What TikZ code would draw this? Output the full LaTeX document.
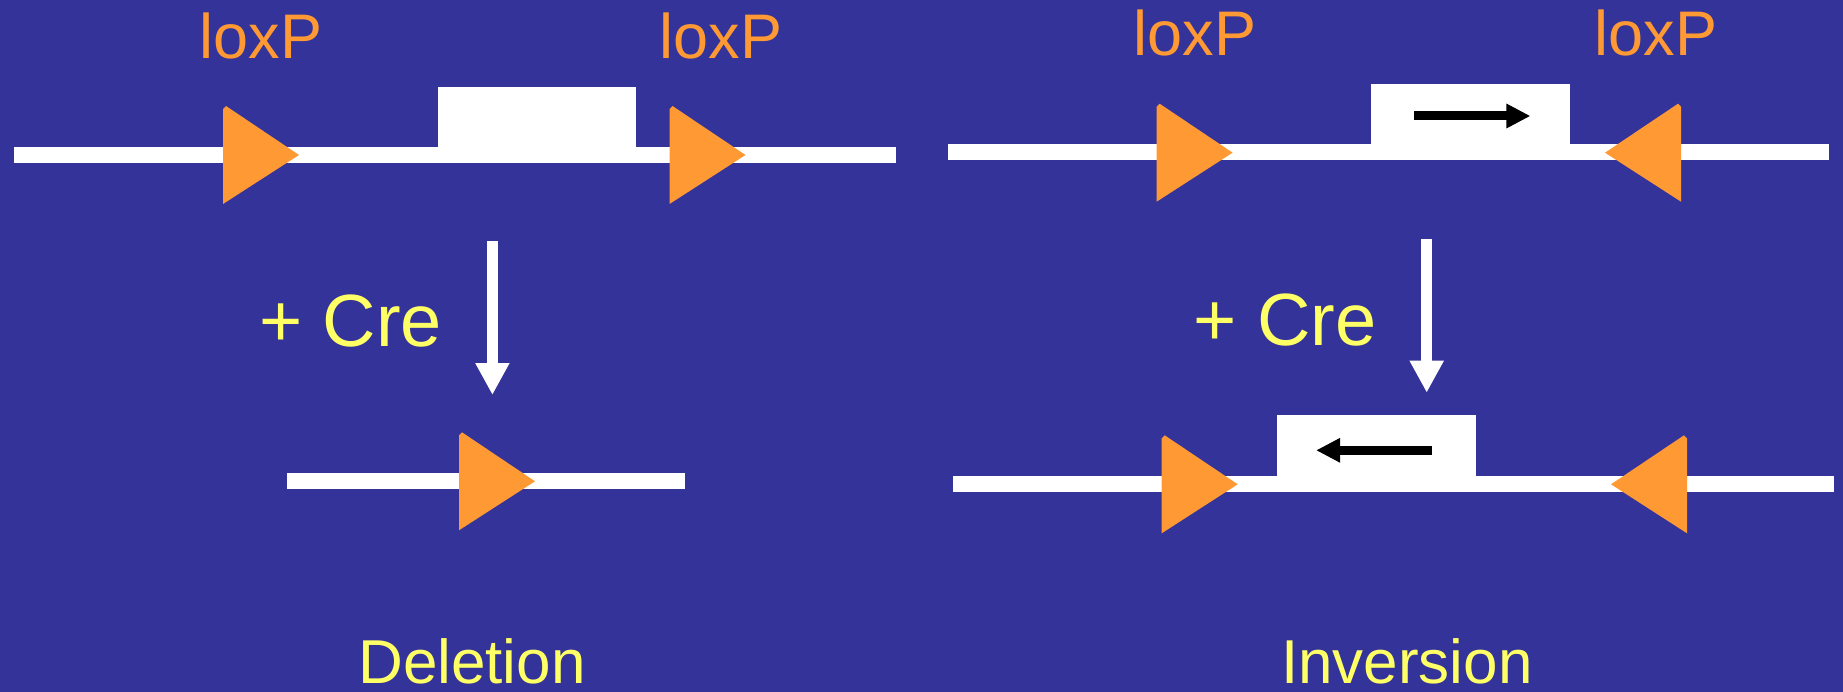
\documentclass[tikz,border=0pt]{standalone}
\usepackage{fontspec}
\setmainfont{Liberation Sans}
\usetikzlibrary{arrows.meta}
\definecolor{slide}{HTML}{333399}
\definecolor{loxorange}{HTML}{FF9933}
\definecolor{creyellow}{HTML}{FFFF66}
\tikzset{
  dna/.style={fill=white},
  loxlabel/.style={text=loxorange, anchor=base, inner sep=0pt, font=\fontsize{63}{63}\selectfont},
  crelabel/.style={text=creyellow, anchor=base, inner sep=0pt, font=\fontsize{74}{74}\selectfont},
  caption/.style={text=creyellow, anchor=base, inner sep=0pt, text depth=0pt, font=\fontsize{62}{62}\selectfont},
  crearrow/.style={draw=white, line width=11pt, -{Triangle[width=32pt,length=32pt]}},
  genearrow/.style={draw=black, line width=9pt, -{Triangle[width=23pt,length=24pt]}},
  loxR/.pic={\fill[loxorange] (0,-46) -- (3,-49) -- (76,0) -- (0,49) -- cycle;},
  loxL/.pic={\fill[loxorange] (0,-46) -- (-3,-49) -- (-76,0) -- (0,49) -- cycle;}
}
\begin{document}
\begin{tikzpicture}[x=1pt,y=-1pt]
  % canvas
  \fill[slide] (0,0) rectangle (1843,692);
  \useasboundingbox (0,0) rectangle (1843,692);

  % ---- Deletion: before ----
  \fill[dna] (14,146.7) rectangle (896,162.7);
  \fill[dna] (438,86.7) rectangle (636,156);
  \pic at (223,155) {loxR};
  \pic at (669.5,155) {loxR};
  \node[loxlabel] (lox1) at (261,58.3) {loxP};
  \node[loxlabel] (lox2) at (721,58.3) {loxP};

  % Cre step
  \coordinate (dtop) at (492.4,241);
  \coordinate (dbot) at (492.4,395);
  \draw[crearrow] (dtop) -- (dbot);
  \node[crelabel] (cre1) at (350.7,346) {+ Cre};

  % ---- Deletion: after ----
  \fill[dna] (287,473.3) rectangle (685,489);
  \pic at (459,481.3) {loxR};
  \node[caption] (del) at (472,683) {Deletion};

  % ---- Inversion: before ----
  \fill[dna] (948,144.3) rectangle (1829.4,160.3);
  \fill[dna] (1371,84.3) rectangle (1570.4,154);
  \coordinate (g1s) at (1414.4,116);
  \coordinate (g1e) at (1530.4,116);
  \draw[genearrow] (g1s) -- (g1e);
  \pic at (1156.6,152.7) {loxR};
  \pic at (1681,152.7) {loxL};
  \node[loxlabel] (lox3) at (1195,55.7) {loxP};
  \node[loxlabel] (lox4) at (1656,55.7) {loxP};

  % Cre step
  \coordinate (itop) at (1426.7,238.7);
  \coordinate (ibot) at (1426.7,392.7);
  \draw[crearrow] (itop) -- (ibot);
  \node[crelabel] (cre2) at (1285,345.3) {+ Cre};

  % ---- Inversion: after ----
  \fill[dna] (952.7,476) rectangle (1834.4,491.7);
  \fill[dna] (1277,415.3) rectangle (1476.2,478);
  \coordinate (g2s) at (1432.4,450.3);
  \coordinate (g2e) at (1316.1,450.3);
  \draw[genearrow] (g2s) -- (g2e);
  \pic at (1161.7,484.3) {loxR};
  \pic at (1687,484.3) {loxL};
  \node[caption] (inv) at (1406.8,683) {Inversion};
\end{tikzpicture}
\end{document}
